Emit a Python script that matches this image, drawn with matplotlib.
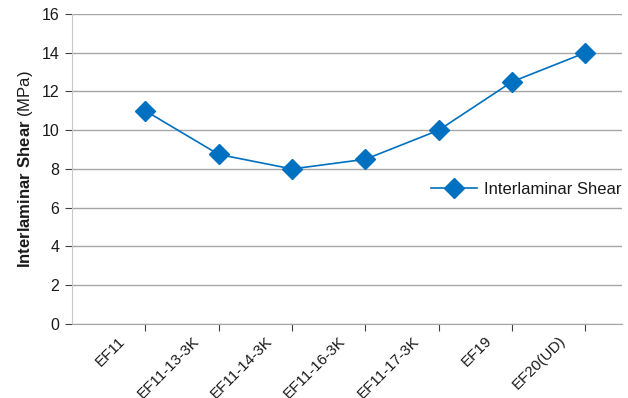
import matplotlib.pyplot as plt
from matplotlib.transforms import ScaledTranslation

plt.rcParams['font.family'] = ['Liberation Sans', 'DejaVu Sans']
plt.rcParams['mathtext.fontset'] = 'custom'
plt.rcParams['mathtext.rm'] = 'Liberation Sans'
plt.rcParams['mathtext.bf'] = 'Liberation Sans:bold'

samples = ['EF11', 'EF11-13-3K', 'EF11-14-3K', 'EF11-16-3K', 'EF11-17-3K', 'EF19', 'EF20(UD)']
shear = [11, 8.75, 8, 8.5, 10, 12.5, 14]

blue = '#0070C0'
grid_c = '#A6A6A6'

fig = plt.figure(figsize=(6.28, 3.98), dpi=100)
ax = fig.add_axes([0.1146, 0.186, 0.876, 0.779])

pos = list(range(1, len(samples) + 1))
ax.plot(pos, shear, color=blue, lw=1.2, marker='D', markersize=10,
        markerfacecolor=blue, markeredgecolor=blue, label='Interlaminar Shear')

ax.set_xlim(0, len(samples) + 0.5)
ax.set_ylim(0, 16)
ax.set_yticks(range(0, 17, 2))
ax.set_xticks(pos)
ax.set_xticklabels([])

# category labels sit left of their tick, like the original
offset = ScaledTranslation(-27 / 100, -10 / 100, fig.dpi_scale_trans)
for p, name in zip(pos, samples):
    ax.text(p, 0, name, transform=ax.get_xaxis_transform() + offset,
            rotation=45, rotation_mode='anchor', ha='right', va='top',
            fontsize=11, color='#1a1a1a')

ax.yaxis.grid(True, color=grid_c, lw=1)
ax.set_axisbelow(True)
for s in ['top', 'right']:
    ax.spines[s].set_visible(False)
ax.spines['left'].set_color('#C8C8C8')
ax.spines['bottom'].set_color(grid_c)
ax.tick_params(axis='both', colors='#404040', labelsize=11.5, length=5, labelcolor='#1a1a1a')
ax.tick_params(axis='y', pad=4)

ax.set_ylabel(r'$\bf{Interlaminar\ Shear}$ (MPa)', fontsize=12, color='#1a1a1a', labelpad=5)

leg = ax.legend(loc='center left', bbox_to_anchor=(0.625, 0.435), frameon=False,
                fontsize=12, handlelength=2.8, handletextpad=0.4)
for t in leg.get_texts():
    t.set_color('#1a1a1a')

fig.savefig('out.png', dpi=100)
